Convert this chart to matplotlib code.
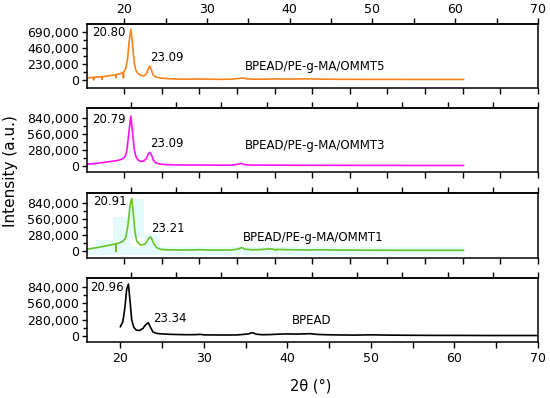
import numpy as np
import matplotlib
matplotlib.use("Agg")
import matplotlib.pyplot as plt
from matplotlib.patches import Rectangle
from matplotlib.ticker import FuncFormatter

# ---------------- data ----------------
x_omm5 = [15.5, 16.0, 16.29, 16.3, 16.31, 17.0, 17.29, 17.3, 17.31, 18.0, 18.99, 19.0, 19.01,
          19.5, 19.89, 19.9, 19.91, 20.2, 20.4, 20.6, 20.8, 21.0, 21.2, 21.4, 21.7, 22.0, 22.4,
          22.7, 22.9, 23.09, 23.3, 23.5, 23.8, 24.3, 25, 26, 27, 28, 29, 30, 31, 32, 33, 34,
          34.3, 34.7, 35.5, 37, 38, 40, 42, 44, 46, 48, 50, 52, 55, 58, 61]
y_omm5 = [30000, 35000, 38000, 0, 38000, 45000, 48000, 10000, 48000, 58000, 75000, 30000, 75000,
          90000, 110000, 30000, 110000, 170000, 300000, 560000, 730000, 520000, 250000, 140000, 90000,
          65000, 60000, 90000, 160000, 200000, 140000, 70000, 45000, 30000, 22000, 15000, 12000,
          12000, 14000, 12000, 10000, 10000, 12000, 25000, 30000, 18000, 12000, 12000, 15000, 13000,
          16000, 12000, 10000, 10000, 9000, 9000, 8000, 8000, 8000]

x_omm3 = [15.5, 16.5, 17.5, 18.5, 19.3, 19.8, 20.1, 20.3, 20.5, 20.79, 21.0, 21.2, 21.4, 21.7,
          22.0, 22.4, 22.7, 22.9, 23.09, 23.3, 23.5, 23.8, 24.3, 25, 26, 27, 28, 29, 30, 31, 32,
          33, 33.7, 34.1, 34.5, 35.5, 37, 39, 41, 43, 45, 48, 51, 55, 58, 61]
y_omm3 = [30000, 45000, 62000, 82000, 100000, 125000, 160000, 260000, 500000, 875000, 600000,
          300000, 170000, 100000, 80000, 90000, 140000, 210000, 240000, 190000, 110000, 55000,
          35000, 25000, 20000, 18000, 17000, 18000, 16000, 15000, 14000, 15000, 30000, 45000,
          25000, 15000, 15000, 14000, 13000, 12000, 12000, 11000, 11000, 10000, 10000, 10000]

x_omm1 = [15.5, 16.5, 17.5, 18.5, 18.99, 19.0, 19.01, 19.5, 19.9, 20.2, 20.45, 20.7, 20.91, 21.1,
          21.3, 21.5, 21.8, 22.1, 22.5, 22.8, 23.0, 23.21, 23.4, 23.6, 23.9, 24.4, 25, 26, 27,
          28, 29, 30, 31, 32, 33, 33.8, 34.2, 34.6, 35.5, 36.5, 37.5, 38.2, 38.3, 38.4, 40, 42,
          44, 46, 48, 50, 53, 56, 61]
y_omm1 = [30000, 55000, 80000, 110000, 125000, -10000, 125000, 145000, 175000, 240000, 450000,
          800000, 920000, 650000, 330000, 180000, 120000, 105000, 120000, 180000, 230000, 245000,
          190000, 120000, 60000, 30000, 22000, 18000, 17000, 18000, 22000, 17000, 15000, 16000,
          18000, 35000, 62000, 30000, 22000, 25000, 38000, 28000, 10000, 28000, 22000, 18000,
          20000, 16000, 15000, 14000, 13000, 12000, 12000]

x_bpead = [20.0, 20.3, 20.55, 20.75, 20.96, 21.15, 21.35, 21.6, 21.9, 22.3, 22.7, 23.0, 23.34,
           23.6, 23.9, 24.3, 25, 26, 27, 28, 29, 29.5, 30, 31, 32, 33, 34, 35.3, 35.8, 36.3, 37,
           38, 39, 40, 41, 42, 42.7, 43.5, 44.5, 46, 48, 50, 52, 55, 58, 61, 64, 67, 70]
y_bpead = [160000, 250000, 500000, 800000, 890000, 600000, 280000, 150000, 100000, 95000, 130000,
           190000, 228000, 150000, 70000, 45000, 35000, 28000, 25000, 22000, 23000, 28000, 20000,
           18000, 17000, 17000, 18000, 35000, 57000, 30000, 22000, 25000, 32000, 35000, 33000,
           36000, 40000, 28000, 22000, 18000, 15000, 20000, 15000, 12000, 10000, 10000, 8000,
           8000, 8000]

samples = ["BPEAD/PE-g-MA/OMMT5", "BPEAD/PE-g-MA/OMMT3", "BPEAD/PE-g-MA/OMMT1", "BPEAD"]
peak1 = [20.80, 20.79, 20.91, 20.96]
peak2 = [23.09, 23.09, 23.21, 23.34]
ytick_step = [230000, 280000, 280000, 280000]
colors = ["#F7821E", "#FF10F0", "#66C42A", "#000000"]

# cyan highlight boxes in the OMMT1 panel: (x0, x1, y0, y1)
hl_x0 = [16.6, 18.64, 20.7, 22.4, 15.5]
hl_x1 = [18.64, 20.7, 22.4, 24.3, 61.0]
hl_y0 = [52500, 52500, 227500, 17500, -70000]
hl_y1 = [192500, 595000, 910000, 297500, 70000]

xs = [x_omm5, x_omm3, x_omm1, x_bpead]
ys = [y_omm5, y_omm3, y_omm1, y_bpead]

# ---------------- layout ----------------
W, H = 550, 398
fig = plt.figure(figsize=(W / 100, H / 100), dpi=100)
panel_px = [(24, 88), (108, 172), (193, 258), (278, 342)]
left_px, right_px = 87, 538
xlims = [(15.5, 70), (15.5, 70), (15.5, 70), (16, 70)]
ylims = [(-115000, 805000), (-105000, 1015000), (-122500, 1015000), (-103000, 994000)]
label_pos = [(34.6, 187000), (34.6, 367500), (34.3, 245000), (40.55, 257000)]
p2_off = [(0.5, 6), (0.5, 6), (0.5, 6), (3.5, 3)]

fmt = FuncFormatter(lambda v, p: f"{v:,.0f}")
lw_sp = 1.1

for i in range(4):
    t, b = panel_px[i]
    ax = fig.add_axes([left_px / W, 1 - b / H, (right_px - left_px) / W, (b - t) / H])
    lo, hi = xlims[i]
    ax.set_xlim(lo, hi)
    ax.set_ylim(*ylims[i])
    for s in ax.spines.values():
        s.set_linewidth(lw_sp)

    if i == 2:
        for a0, a1, b0, b1 in zip(hl_x0, hl_x1, hl_y0, hl_y1):
            ax.add_patch(Rectangle((a0, b0), a1 - a0, b1 - b0, facecolor="#E4FAFB",
                                   edgecolor="none", zorder=0))

    x = np.array(xs[i]); y = np.array(ys[i])
    ax.plot(x, y, color=colors[i], lw=1.2, zorder=2, clip_on=True)

    # y ticks
    st = ytick_step[i]
    ax.set_yticks([0, st, 2 * st, 3 * st])
    ax.set_yticks([st / 2, 1.5 * st, 2.5 * st], minor=True)
    ax.yaxis.set_major_formatter(fmt)
    ax.tick_params(axis="y", which="both", direction="out", length=3.5, width=1.0,
                   labelsize=9, pad=2, right=False)
    ax.tick_params(axis="y", which="minor", length=3)

    # bottom ticks
    if i < 3:
        fr = np.linspace((124 - left_px) / (right_px - left_px), 1.0, 12)
        ax.set_xticks(lo + fr * (hi - lo))
        ax.set_xticklabels([])
    else:
        ax.set_xticks(np.arange(20, 71, 10))
        ax.set_xticks(np.arange(25, 70, 10), minor=True)
    ax.tick_params(axis="x", which="both", direction="out", length=4, width=1.0,
                   labelsize=9, pad=3, top=False)

    # top ticks
    sec = ax.secondary_xaxis("top")
    sec.spines["top"].set_linewidth(lw_sp)
    if i == 0:
        sec.set_xticks(np.arange(20, 71, 10))
        sec.set_xticks(np.arange(25, 70, 10), minor=True)
    else:
        fr = np.linspace((131 - left_px) / (right_px - left_px), 1.0, 10)
        sec.set_xticks(lo + fr * (hi - lo))
        sec.set_xticklabels([])
    sec.tick_params(axis="x", which="both", direction="out", length=4, width=1.0,
                    labelsize=9, pad=2)

    # annotations
    h1 = np.interp(peak1[i], x, y)
    h2 = np.interp(peak2[i], x, y)
    ax.annotate(f"{peak1[i]:.2f}", xy=(peak1[i], h1), xytext=(-3.5, -2.5),
                textcoords="offset points", ha="right", va="center", fontsize=8.5)
    ax.annotate(f"{peak2[i]:.2f}", xy=(peak2[i], h2), xytext=p2_off[i],
                textcoords="offset points", ha="left", va="center", fontsize=8.5)
    ax.text(label_pos[i][0], label_pos[i][1], samples[i], ha="left", va="center", fontsize=8.5)

fig.text(11 / W, 1 - 171 / H, "Intensity (a.u.)", rotation=90, ha="center", va="center",
         fontsize=11)
fig.text(311 / W, 1 - 386 / H, "2θ (°)", ha="center", va="center", fontsize=10.5)

fig.savefig("out.png", dpi=100)
